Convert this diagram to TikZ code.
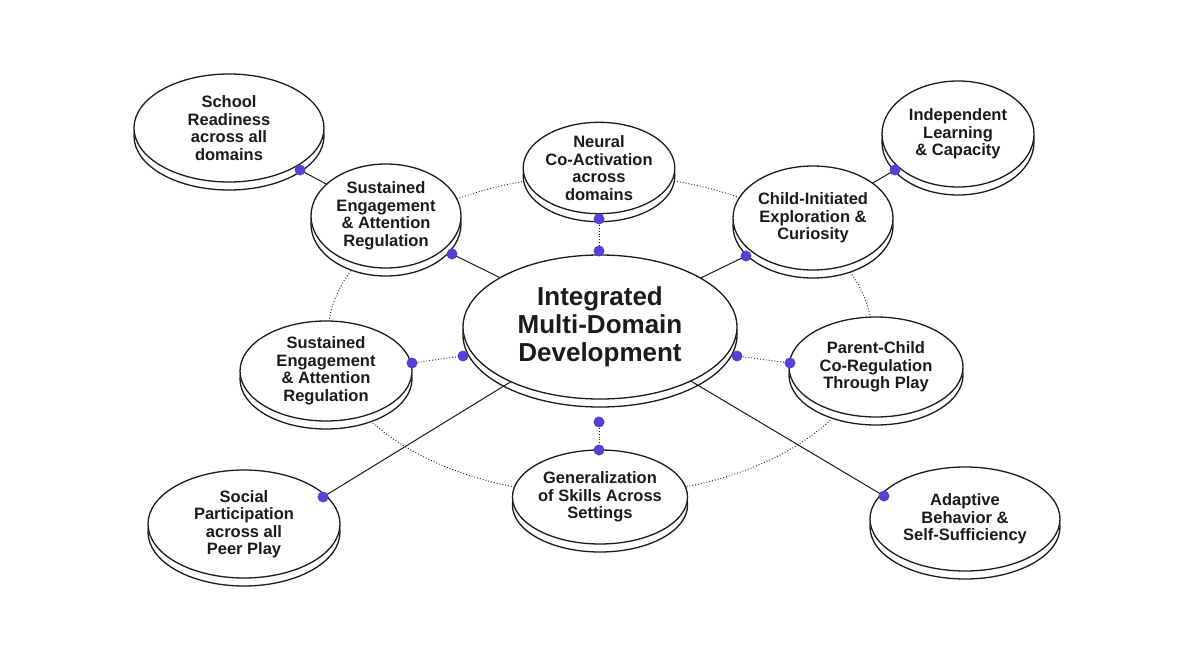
\documentclass[tikz,border=0pt]{standalone}
\usepackage{fontspec}
\setmainfont{Liberation Sans}
\usetikzlibrary{shapes.geometric,shadows}
\definecolor{dotc}{HTML}{5542D0}
\definecolor{ink}{HTML}{1E1A1A}
\begin{document}
\begin{tikzpicture}[x=1pt,y=-1pt,
 disc/.style={ellipse,draw=ink,line width=1.3pt,fill=white,inner sep=0pt,align=center,
   font=\bfseries\fontsize{16.5}{17.5}\selectfont,text=ink,
   copy shadow={shadow yshift=-8pt,shadow xshift=0pt}},
 dot/.style={circle,fill=dotc,inner sep=0pt,minimum size=11pt},
 solid link/.style={draw=ink,line width=1pt},
 dot link/.style={draw=ink,line width=0.9pt,dotted}]
\useasboundingbox (0,0) rectangle (1200,669);
\fill[white] (0,0) rectangle (1200,669);
\draw[dot link] (600,335) ellipse [x radius=272pt,y radius=160pt];
\node[disc,minimum width=274pt,minimum height=144pt,font=\bfseries\fontsize{26}{28}\selectfont] (c) at (600,327) {Integrated\\Multi-Domain\\Development};
\node[disc,minimum width=144pt,minimum height=90pt] (n) at (599,168) {Neural\\Co-Activation\\across\\domains};
\node[disc,minimum width=190pt,minimum height=108pt] (sr) at (229,128) {School\\Readiness\\across all\\domains};
\node[disc,minimum width=150pt,minimum height=104pt] (se1) at (386,216) {Sustained\\Engagement\\\& Attention\\Regulation};
\node[disc,minimum width=160pt,minimum height=104pt] (ci) at (813,218) {Child-Initiated\\Exploration \&\\Curiosity};
\node[disc,minimum width=152pt,minimum height=106pt] (il) at (958,134) {Independent\\Learning\\\& Capacity};
\node[disc,minimum width=172pt,minimum height=100pt] (se2) at (326,371) {Sustained\\Engagement\\\& Attention\\Regulation};
\node[disc,minimum width=174pt,minimum height=100pt] (pc) at (876,367) {Parent-Child\\Co-Regulation\\Through Play};
\node[disc,minimum width=158pt,minimum height=94pt] (g) at (600,497) {Generalization\\of Skills Across\\Settings};
\node[disc,minimum width=192pt,minimum height=108pt] (sp) at (244,524) {Social\\Participation\\across all\\Peer Play};
\node[disc,minimum width=190pt,minimum height=104pt] (ad) at (965,519) {Adaptive\\Behavior \&\\Self-Sufficiency};
\coordinate (dn1) at (599,219);
\coordinate (dn2) at (599,251);
\coordinate (dsr) at (300,170);
\coordinate (dse1) at (452,254);
\coordinate (dci) at (746,256);
\coordinate (dil) at (895,170);
\coordinate (dse2) at (412,363);
\coordinate (dcl) at (463,356);
\coordinate (dpc) at (790,363);
\coordinate (dcr) at (737,356);
\coordinate (dg1) at (599,422);
\coordinate (dg2) at (599,450);
\coordinate (dsp) at (323,497);
\coordinate (dad) at (884,496);
\draw[dot link] (dn1) -- (dn2);
\draw[dot link] (dse2) -- (dcl);
\draw[dot link] (dcr) -- (dpc);
\draw[dot link] (dg1) -- (dg2);
\draw[solid link] (dsr) -- (se1);
\draw[solid link] (dse1) -- (c);
\draw[solid link] (dci) -- (c);
\draw[solid link] (dil) -- (ci);
\draw[solid link] (dsp) -- (c);
\draw[solid link] (dad) -- (c);
\foreach \d in {dn1,dn2,dsr,dse1,dci,dil,dse2,dcl,dpc,dcr,dg1,dg2,dsp,dad}
  \node[dot] at (\d) {};
\end{tikzpicture}
\end{document}
